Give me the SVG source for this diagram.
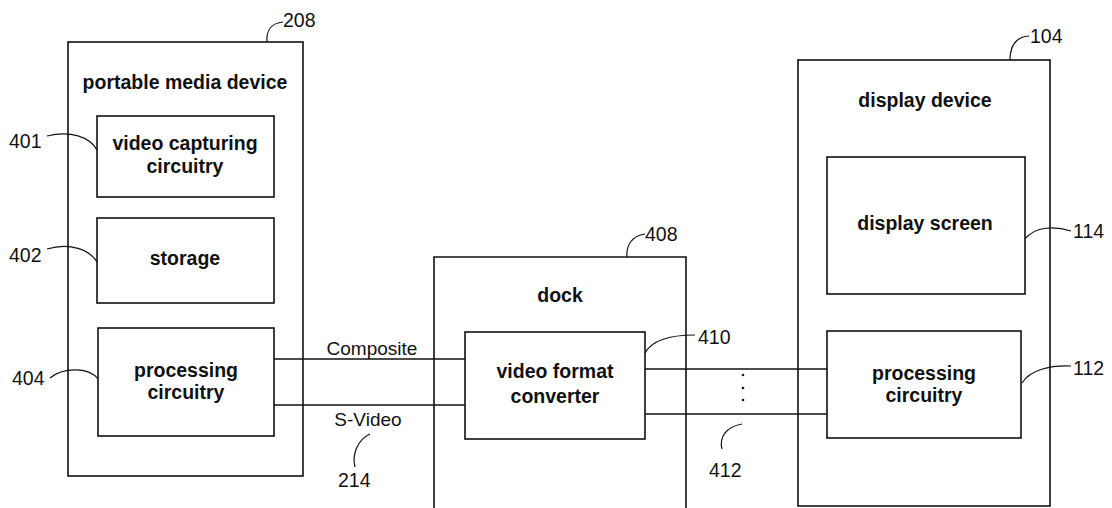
<svg xmlns="http://www.w3.org/2000/svg" width="1112" height="508" viewBox="0 0 1112 508">
<style>
.box{fill:none;stroke:#111;stroke-width:1.6}
.ln{fill:none;stroke:#111;stroke-width:1.5}
.ld{fill:none;stroke:#111;stroke-width:1.2}
.t{font-family:"Liberation Sans",Arial,sans-serif;font-weight:bold;font-size:19.5px;fill:#111;text-anchor:middle}
.n{font-family:"Liberation Sans",Arial,sans-serif;font-size:19.5px;fill:#111}
.c{font-family:"Liberation Sans",Arial,sans-serif;font-size:19px;fill:#111;text-anchor:middle}
</style>
<rect width="1112" height="508" fill="#fff"/>
<g id="pmd">
<rect class="box" x="68" y="42" width="235" height="434"/>
<text class="t" x="185" y="89">portable media device</text>
<text class="n" x="283" y="27">208</text>
<path class="ld" d="M267,42 C266,30 272,23 283,22"/>
</g>
<g id="vcc">
<rect class="box" x="97" y="116" width="177" height="81"/>
<text class="t" x="185" y="150">video capturing</text>
<text class="t" x="185" y="173">circuitry</text>
<text class="n" x="9" y="148">401</text>
<path class="ld" d="M47,136 C70,130 90,137 97,150"/>
</g>
<g id="storage">
<rect class="box" x="97" y="218" width="177" height="85"/>
<text class="t" x="185" y="265">storage</text>
<text class="n" x="9" y="262">402</text>
<path class="ld" d="M47,249 C70,242 90,250 97,262"/>
</g>
<g id="pc1">
<rect class="box" x="98" y="328" width="176" height="108"/>
<text class="t" x="186" y="377">processing</text>
<text class="t" x="186" y="399">circuitry</text>
<text class="n" x="12" y="385">404</text>
<path class="ld" d="M50,378 C62,368 88,366 98,379"/>
</g>
<g id="dock">
<path class="box" d="M434,510 V257 H686 V510"/>
<text class="t" x="560" y="302">dock</text>
<text class="n" x="645" y="241">408</text>
<path class="ld" d="M627,257 C626,245 632,236 645,234"/>
</g>
<g id="vfc">
<rect class="box" x="465" y="332" width="180" height="107"/>
<text class="t" x="555" y="378">video format</text>
<text class="t" x="555" y="403">converter</text>
<text class="n" x="698" y="344">410</text>
<path class="ld" d="M645,353 C652,340 670,335 695,335"/>
</g>
<g id="display">
<rect class="box" x="798" y="60" width="252" height="446"/>
<text class="t" x="925" y="107">display device</text>
<text class="n" x="1030" y="43">104</text>
<path class="ld" d="M1010,60 C1010,46 1016,37 1029,36"/>
</g>
<g id="screen">
<rect class="box" x="827" y="157" width="198" height="137"/>
<text class="t" x="925" y="230">display screen</text>
<text class="n" x="1073" y="238">114</text>
<path class="ld" d="M1025,239 C1035,226 1055,226 1071,231"/>
</g>
<g id="pc2">
<rect class="box" x="827" y="331" width="194" height="107"/>
<text class="t" x="924" y="380">processing</text>
<text class="t" x="924" y="402">circuitry</text>
<text class="n" x="1073" y="375">112</text>
<path class="ld" d="M1022,383 C1030,370 1050,365 1071,366"/>
</g>
<g id="connectors">
<line class="ln" x1="274" y1="359" x2="465" y2="359"/>
<line class="ln" x1="274" y1="405" x2="465" y2="405"/>
<text class="c" x="372" y="355">Composite</text>
<text class="c" x="368" y="426">S-Video</text>
<text class="n" x="338" y="487">214</text>
<path class="ld" d="M355,467 C352,455 357,440 370,434"/>
<line class="ln" x1="645" y1="369" x2="827" y2="369"/>
<line class="ln" x1="645" y1="414" x2="827" y2="414"/>
<circle cx="743" cy="375" r="1.3" fill="#111"/>
<circle cx="743" cy="388" r="1.3" fill="#111"/>
<circle cx="743" cy="400" r="1.3" fill="#111"/>
<text class="n" x="709" y="477">412</text>
<path class="ld" d="M722,449 C719,437 726,427 742,424"/>
</g>
</svg>
